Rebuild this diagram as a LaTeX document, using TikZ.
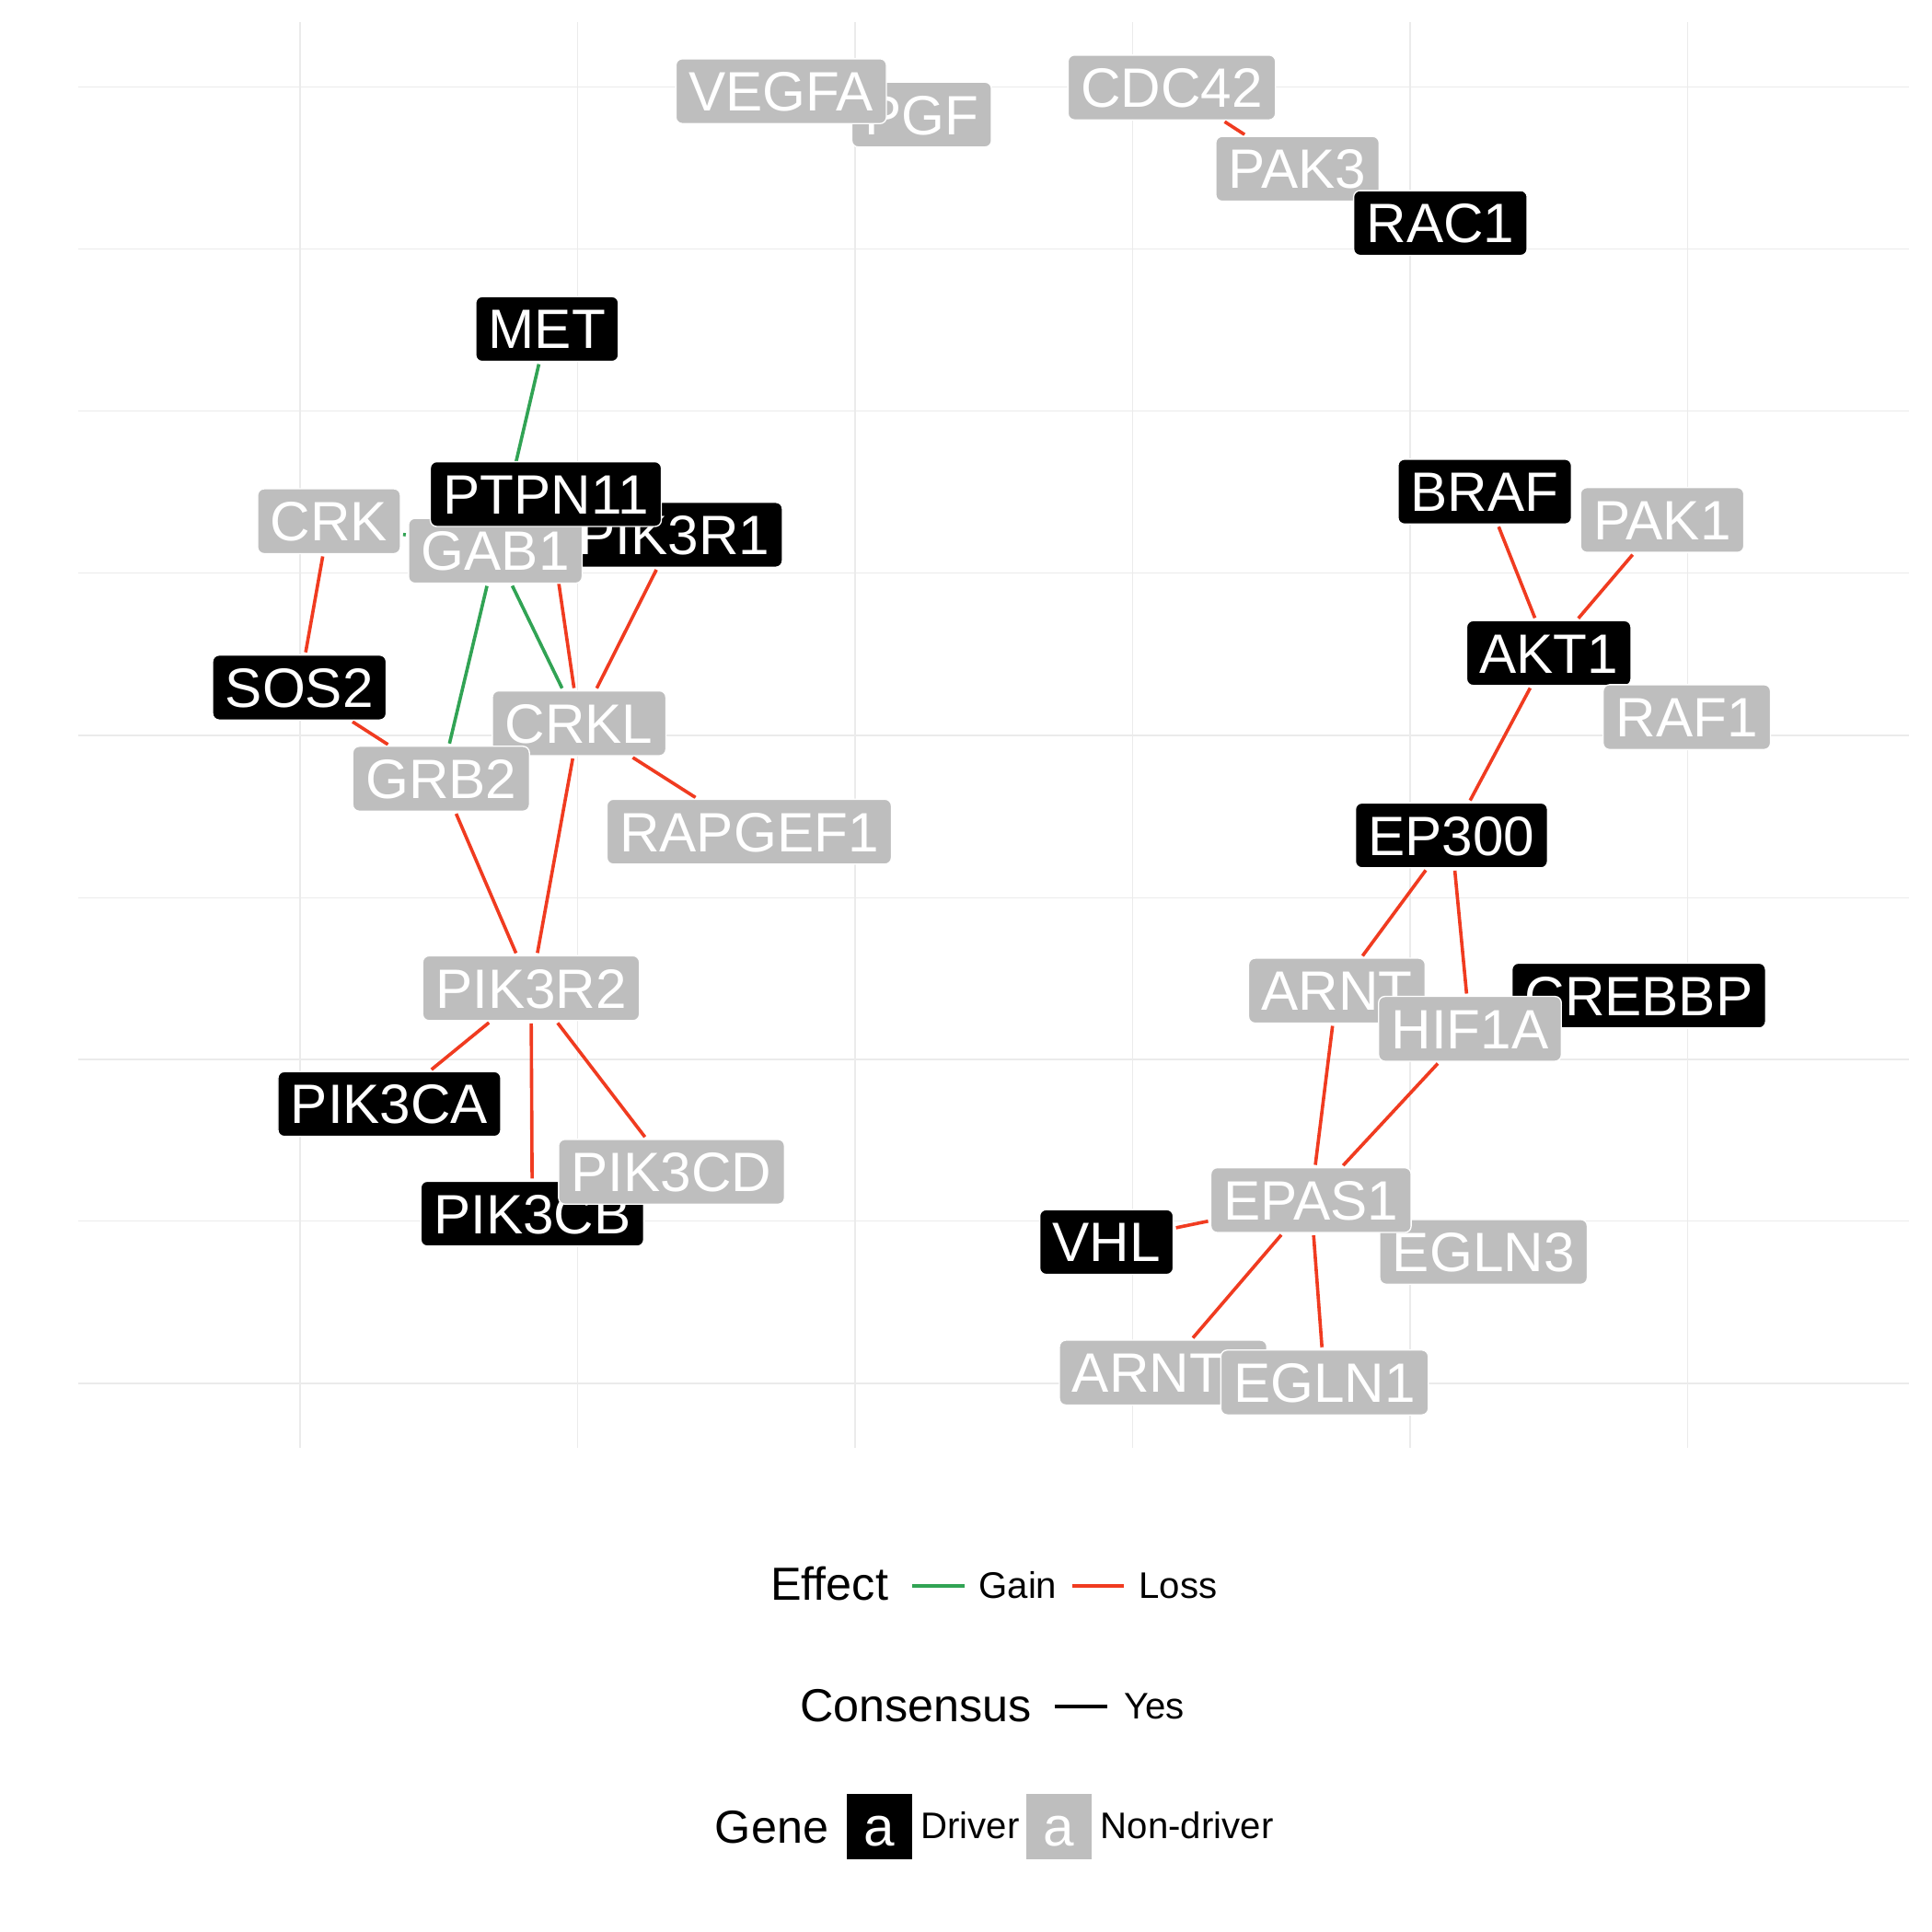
\documentclass[tikz,border=0pt]{standalone}
\usepackage{fontspec}
\setmainfont{Liberation Sans}
\usetikzlibrary{backgrounds}
\definecolor{gaincol}{RGB}{49,163,84}
\definecolor{losscol}{RGB}{240,59,32}
\definecolor{ndgrey}{RGB}{190,190,190}
\definecolor{gridcol}{RGB}{235,235,235}
\newcommand{\genefont}{\fontsize{22.5pt}{22.5pt}\selectfont}
\newcommand{\legtitlefont}{\fontsize{18.8pt}{18.8pt}\selectfont}
\newcommand{\legtextfont}{\fontsize{15pt}{15pt}\selectfont}
\tikzset{
  gene/.style={rectangle, rounded corners=2.6pt, draw=white, line width=0.5pt,
    text=white, font=\genefont, inner xsep=5.2pt, inner ysep=5.1pt,
    text height=16.1pt, text depth=0pt},
  driver/.style={gene, fill=black},
  nondriver/.style={gene, fill=ndgrey},
  edgebase/.style={line width=1.35pt, shorten <=0.9pt, shorten >=0.9pt},
  gain/.style={edgebase, draw=gaincol},
  loss/.style={edgebase, draw=losscol},
  gmajor/.style={draw=gridcol, line width=0.65pt},
  gminor/.style={draw=gridcol, line width=0.32pt},
  legtitle/.style={anchor=base west, inner sep=0pt, font=\legtitlefont},
  legtext/.style={anchor=base west, inner sep=0pt, font=\legtextfont},
  keyline/.style={line width=1.35pt},
  keybox/.style={minimum width=26.5pt, minimum height=26.5pt, inner sep=0pt, draw=none}
}
\begin{document}
\begin{tikzpicture}[x=0.5pt,y=-0.5pt]
\useasboundingbox (0,0) rectangle (1568,1568);
\begin{scope}[on background layer]
  \fill[white] (0,0) rectangle (1568,1568);
  % minor grid
  \foreach \gx in {468.5,919,1369.5} {\draw[gminor] (\gx,18) -- (\gx,1175);}
  \foreach \gy in {202,465,728.5,991} {\draw[gminor] (63.5,\gy) -- (1549.5,\gy);}
  % major grid
  \foreach \gx in {243.5,694,1144.5} {\draw[gmajor] (\gx,18) -- (\gx,1175);}
  \foreach \gy in {70.5,333.5,597,860,1122.5} {\draw[gmajor] (63.5,\gy) -- (1549.5,\gy);}
\end{scope}

% gene labels (drawing order matters for overlaps)
\node[nondriver] (PGF) at (748,93) {PGF};
\node[nondriver] (VEGFA) at (634,74) {VEGFA};
\node[nondriver] (CDC42) at (951,71) {CDC42};
\node[nondriver] (PAK3) at (1053,137) {PAK3};
\node[driver] (RAC1) at (1169,181) {RAC1};

\node[driver] (MET) at (444,267) {MET};
\node[driver] (PIK3R1) at (547,434) {PIK3R1};
\node[nondriver] (GAB1) at (402,447) {GAB1};
\node[driver] (PTPN11) at (443,401) {PTPN11};
\node[nondriver] (CRK) at (267,423) {CRK};
\node[driver] (SOS2) at (243,558) {SOS2};
\node[nondriver] (CRKL) at (470,587) {CRKL};
\node[nondriver] (GRB2) at (358,632) {GRB2};
\node[nondriver] (RAPGEF1) at (608,675) {RAPGEF1};
\node[nondriver] (PIK3R2) at (431,802) {PIK3R2};
\node[driver] (PIK3CA) at (316,896) {PIK3CA};
\node[driver] (PIK3CB) at (432,985) {PIK3CB};
\node[nondriver] (PIK3CD) at (545,951) {PIK3CD};

\node[driver] (BRAF) at (1205,399) {BRAF};
\node[nondriver] (PAK1) at (1349,422) {PAK1};
\node[driver] (AKT1) at (1257,530) {AKT1};
\node[nondriver] (RAF1) at (1369,582) {RAF1};
\node[driver] (EP300) at (1178,678) {EP300};
\node[nondriver] (ARNT) at (1085,804) {ARNT};
\node[driver] (CREBBP) at (1330,808) {CREBBP};
\node[nondriver] (HIF1A) at (1193,835) {HIF1A};
\node[nondriver] (EGLN3) at (1204,1016) {EGLN3};
\node[nondriver] (EPAS1) at (1064,974) {EPAS1};
\node[driver] (VHL) at (898,1008) {VHL};
\node[nondriver] (ARNT2) at (944,1114) {ARNT2};
\node[nondriver] (EGLN1) at (1075,1122) {EGLN1};

% edges (behind labels)
\begin{scope}[on background layer]
  \draw[gain] (MET) -- (GAB1);
  \draw[gain] (CRK) -- (GAB1);
  \draw[gain] (GAB1) -- (GRB2);
  \draw[gain] (GAB1) -- (CRKL);
  \draw[loss] (CDC42) -- (PAK3);
  \draw[loss] (CRK) -- (SOS2);
  \draw[loss] (SOS2) -- (GRB2);
  \draw[loss] (PTPN11) -- (CRKL);
  \draw[loss] (PIK3R1) -- (CRKL);
  \draw[loss] (CRKL) -- (RAPGEF1);
  \draw[loss] (CRKL) -- (PIK3R2);
  \draw[loss] (GRB2) -- (PIK3R2);
  \draw[loss] (PIK3R2) -- (PIK3CA);
  \draw[loss] (PIK3R2) -- (PIK3CB);
  \draw[loss] (PIK3R2) -- (PIK3CD);
  \draw[loss] (BRAF) -- (AKT1);
  \draw[loss] (PAK1) -- (AKT1);
  \draw[loss] (AKT1) -- (EP300);
  \draw[loss] (EP300) -- (ARNT);
  \draw[loss] (EP300) -- (HIF1A);
  \draw[loss] (ARNT) -- (EPAS1);
  \draw[loss] (HIF1A) -- (EPAS1);
  \draw[loss] (VHL) -- (EPAS1);
  \draw[loss] (EPAS1) -- (ARNT2);
  \draw[loss] (EPAS1) -- (EGLN1);
\end{scope}

% legend: Effect
\node[legtitle] (effT) at (625,1299) {Effect};
\coordinate (kg1) at (740,1287);
\coordinate (kg2) at (783,1287);
\draw[keyline, draw=gaincol] (kg1) -- (kg2);
\node[legtext] (gainT) at (794,1297) {Gain};
\coordinate (kl1) at (870,1287);
\coordinate (kl2) at (912,1287);
\draw[keyline, draw=losscol] (kl1) -- (kl2);
\node[legtext] (lossT) at (924,1297) {Loss};

% legend: Consensus
\node[legtitle] (consT) at (649,1397) {Consensus};
\coordinate (kc1) at (856,1385);
\coordinate (kc2) at (899,1385);
\draw[keyline, draw=black] (kc1) -- (kc2);
\node[legtext] (yesT) at (912,1395) {Yes};

% legend: Gene
\node[legtitle] (geneT) at (580,1496) {Gene};
\node[keybox, fill=black] (keyD) at (713.5,1482.5) {};
\node[anchor=base, inner sep=0pt, font=\genefont, text=white] (keyDa) at (713.5,1498) {a};
\node[legtext] (drvT) at (747,1492) {Driver};
\node[keybox, fill=ndgrey] (keyN) at (859.5,1482.5) {};
\node[anchor=base, inner sep=0pt, font=\genefont, text=white] (keyNa) at (859.5,1498) {a};
\node[legtext] (ndT) at (893,1492) {Non-driver};
\end{tikzpicture}
\end{document}
